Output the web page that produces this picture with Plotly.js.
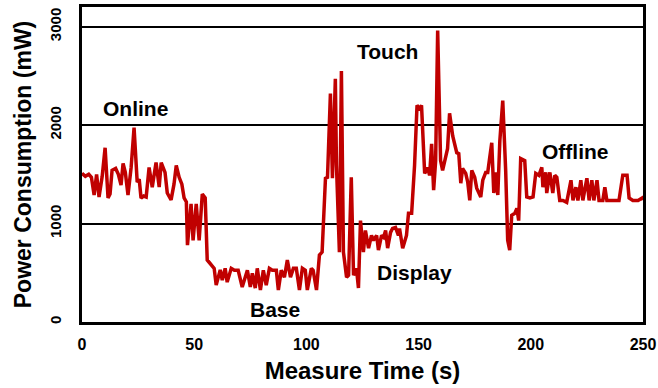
<!DOCTYPE html>
<html>
<head>
<meta charset="utf-8">
<script src="https://cdn.plot.ly/plotly-3.0.1.min.js"></script>
<style>html,body{margin:0;padding:0;background:#fff;}#chart{width:658px;height:388px;}</style>
</head>
<body>
<div id="chart"></div>
<script>
const timeS = [0,1.5,3,4.2,5.4,6.5,7.6,9,10.3,11.6,12.5,13.4,15,16.2,17.4,18.3,19.3,20.5,21.9,23.2,24.6,25.5,26.3,27.5,28.6,29.9,31.3,33,34.4,35.3,37,38,39.7,41,42,43.3,44.5,45.5,46.5,47,48.6,49.5,50.9,52.2,53.6,54.9,55.8,57.6,58.9,59.8,61.6,62.5,63.8,64.7,66.5,67.9,69.6,71.4,73.7,75,75.9,77.2,78.1,79.5,80.8,82.1,83.5,84.8,86.6,87.5,88.8,90.2,91.5,92.9,94.2,95.5,96.9,98.2,99.5,100.4,102.2,103,104.5,105.8,107,108.5,109.4,110.7,111.6,112.9,113.4,114.7,115.6,116.5,117.9,118.8,120,121,122.3,123.2,124.1,125.4,126.3,127.7,129,129.9,131.3,132.1,133.5,134.4,135.3,136.2,137.5,138.4,139.7,141,141.5,142.9,144.6,145.5,146.9,148.2,149.3,150.4,151.3,152.7,154,154.9,155.8,156.7,157.6,158.5,159.8,160.7,162,162.9,163.8,165.2,167,167.9,168.8,169.6,171,171.9,172.8,173.7,175,175.9,177.7,178.6,179.9,180.8,181.7,182.6,183.5,184.4,185.3,186.2,187.5,188.8,189.7,190.6,191.5,192.9,193.8,194.6,195.5,197.3,198.2,199.6,201,202.2,203.6,204.9,205.4,206.7,207.1,208.5,209.8,210.7,211.6,212.9,214.3,216,217.9,218.8,220.1,221,222.3,223.2,225,226,227.2,228.1,229.5,230.4,232.1,233,233.9,236.2,237.9,239.3,241,242.9,243.8,245.5,247.8,249.6,250];
const powerMW = [1510,1480,1500,1470,1290,1500,1270,1480,1770,1260,1300,1540,1560,1500,1390,1610,1520,1290,1570,1975,1420,1450,1260,1280,1270,1570,1370,1620,1370,1620,1520,1310,1240,1400,1590,1470,1400,1260,1220,780,1200,830,1200,830,1300,1260,630,580,545,375,530,425,545,405,545,525,525,355,525,355,495,345,545,325,525,375,545,525,525,325,525,455,630,455,545,545,325,545,525,325,545,525,325,680,710,1460,1470,2320,1460,2470,1590,710,2550,710,455,475,1470,475,545,345,1030,710,930,750,880,830,880,730,880,860,930,750,910,950,960,880,950,750,880,1105,1105,1590,2200,2170,2200,1510,1570,1490,1810,1340,1640,2960,1640,1540,1670,1760,2120,1890,1720,1710,1410,1560,1510,1420,1235,1540,1470,1360,1270,1440,1520,1520,1670,1820,1310,1520,1290,1840,2250,1540,830,730,1085,1105,1155,1030,1660,1640,1270,1260,1270,1510,1490,1570,1370,1520,1310,1520,1310,1490,1470,1235,1235,1215,1440,1235,1370,1235,1440,1235,1460,1235,1440,1235,1440,1235,1235,1370,1235,1235,1235,1235,1490,1490,1260,1235,1235,1260,1240];
const xTicks = [0,50,100,150,200,250];
const yTicks = [0,1000,2000,3000];
const labelText = ["Online","Touch","Display","Base","Offline"];
const labelX = [24,136,148,86,220];
const labelY = [2170,2750,500,130,1730];

const font = "Arial, 'Liberation Sans', sans-serif";
const data = [{
  x: timeS, y: powerMW, type: 'scatter', mode: 'lines',
  line: {color: '#C00000', width: 3.5}, hoverinfo: 'skip'
}];
const layout = {
  width: 658, height: 388,
  margin: {l: 82, r: 15, t: 7, b: 66},
  paper_bgcolor: '#fff', plot_bgcolor: '#fff',
  showlegend: false,
  font: {family: font, color: '#000'},
  xaxis: {
    range: [0, 250], tickvals: xTicks, ticktext: xTicks.map(String),
    showgrid: false, zeroline: false, showline: true, mirror: true,
    linecolor: '#000', linewidth: 3, ticks: '', ticklabelstandoff: 6,
    tickfont: {family: font, size: 16, weight: 'bold'},
    title: {text: 'Measure Time (s)', font: {family: font, size: 24, weight: 'bold'}, standoff: 10}
  },
  yaxis: {
    range: [0, 3200], tickvals: yTicks, ticktext: yTicks.map(String),
    tickangle: -90, ticklabelstandoff: 12,
    showgrid: true, gridcolor: '#000', gridwidth: 2,
    zeroline: false, showline: true, mirror: true,
    linecolor: '#000', linewidth: 3, ticks: '',
    tickfont: {family: font, size: 15, weight: 'bold'},
    title: {text: 'Power Consumption (mW)', font: {family: font, size: 23, weight: 'bold'}, standoff: 9}
  },
  annotations: labelText.map((t, i) => ({
    x: labelX[i], y: labelY[i], text: t, showarrow: false,
    font: {family: font, size: 21, weight: 'bold', color: '#000'}
  }))
};
Plotly.newPlot('chart', data, layout, {displayModeBar: false, staticPlot: true});
</script>
</body>
</html>
